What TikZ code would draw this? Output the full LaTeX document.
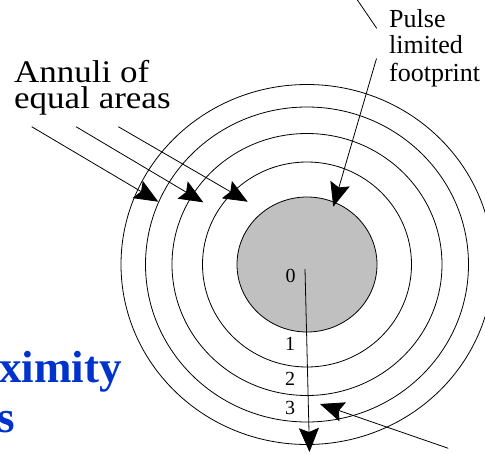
\documentclass[tikz,border=0pt]{standalone}
\usepackage{fontspec}
\setmainfont{Liberation Serif}
\usetikzlibrary{arrows.meta}
\definecolor{diskgray}{RGB}{192,192,192}
\definecolor{titleblue}{RGB}{0,51,204}
\newcommand{\squash}[1]{\scalebox{1}[0.9]{#1}}
\begin{document}
\begin{tikzpicture}[x=1pt,y=-1pt,
  ring/.style={draw=black,line width=0.8pt},
  leader/.style={draw=black,line width=0.8pt},
  ptr/.style={draw=black,line width=0.8pt,-{Stealth[length=24pt,width=20pt,inset=4pt]}},
  bigtext/.style={inner sep=0pt,font=\fontsize{35}{35}\selectfont},
  smalltext/.style={inner sep=0pt,font=\fontsize{26}{26}\selectfont},
  digit/.style={inner sep=0pt,font=\fontsize{20}{20}\selectfont},
  bluetext/.style={inner sep=0pt,text=titleblue,font=\fontsize{45}{45}\bfseries\selectfont}]
\clip (0,0) rectangle (485,453);
\coordinate (c) at (307,264.5);
% annuli
\draw[ring] (c) ellipse [x radius=186, y radius=180];
\draw[ring] (c) ellipse [x radius=161.5, y radius=157.5];
\draw[ring] (c) ellipse [x radius=135, y radius=131];
\draw[ring] (c) ellipse [x radius=104.5, y radius=102.5];
\draw[ring,fill=diskgray] (c) ellipse [x radius=70, y radius=67.5];
% texts
\node[bigtext,anchor=base west] (ann1) at (14,82) {\squash{Annuli of}};
\node[bigtext,anchor=base west] (ann2) at (14,108) {\squash{equal areas}};
\node[smalltext,anchor=base west] (pl1) at (389,27.3) {Pulse};
\node[smalltext,anchor=base west] (pl2) at (389,53.3) {limited};
\node[smalltext,anchor=base west] (pl3) at (389,81) {footprint};
\node[bluetext,anchor=base east] (bl1) at (122,382) {ximity};
\node[bluetext,anchor=base east] (bl2) at (15,432) {s};
\node[digit,anchor=base] (d0) at (290.5,282.3) {0};
\node[digit,anchor=base] (d1) at (290,350) {1};
\node[digit,anchor=base] (d2) at (290,385) {2};
\node[digit,anchor=base] (d3) at (290,414) {3};
% connector points
\coordinate (a1s) at (31.7,126.7);
\coordinate (a1t) at (158.3,201.7);
\coordinate (a2s) at (76,126.7);
\coordinate (a2t) at (203.3,202.3);
\coordinate (a3s) at (118.3,126.7);
\coordinate (a3t) at (247.7,201.7);
\coordinate (ps) at (376.5,58.5);
\coordinate (pt) at (333.3,206.7);
\coordinate (ta) at (356.7,-1);
\coordinate (tb) at (376.7,28.3);
\coordinate (rs) at (305,269);
\coordinate (rt) at (309.5,452);
\coordinate (bs) at (448.3,448.3);
\coordinate (bt) at (320,404);
% connectors
\draw[ptr] (a1s) -- (a1t);
\draw[ptr] (a2s) -- (a2t);
\draw[ptr] (a3s) -- (a3t);
\draw[ptr] (ps) -- (pt);
\draw[leader] (ta) -- (tb);
\draw[ptr] (rs) -- (rt);
\draw[ptr] (bs) -- (bt);
\end{tikzpicture}
\end{document}
